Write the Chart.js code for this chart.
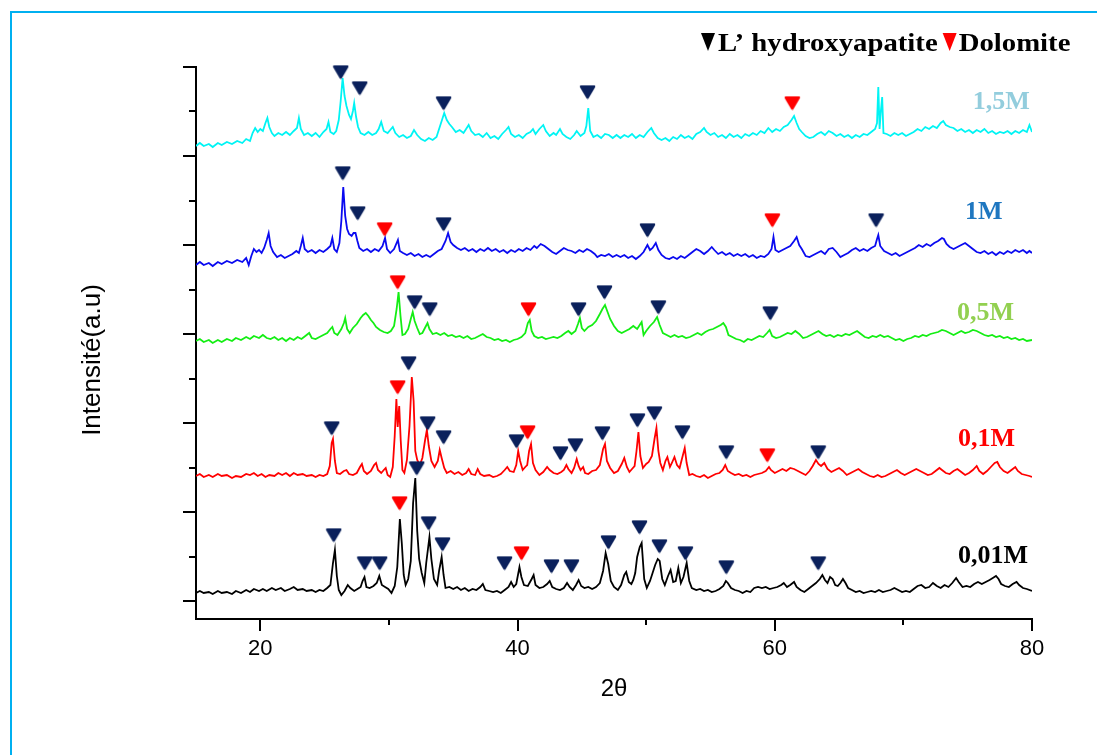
<!DOCTYPE html>
<html>
<head>
<meta charset="utf-8">
<script src="https://cdn.jsdelivr.net/npm/chart.js@4.4.1/dist/chart.umd.min.js"></script>
<style>
  html, body { margin: 0; padding: 0; background: #fff; }
  canvas { display: block; }
</style>
</head>
<body>
<canvas id="xrdChart" width="1097" height="755"></canvas>
<script>
// XRD patterns, [2theta, intensity (a.u., stacked)]
const pattern15M = [
  [15.0,455],[15.3,458],[15.6,455],[16.0,457],[16.3,454],[16.7,458],[17.0,456],[17.4,459],[17.8,457],[18.2,460],
  [18.6,458],[18.9,462],[19.2,460],[19.4,468],[19.6,473],[19.8,469],[20.0,472],[20.2,470],[20.4,478],[20.55,483],
  [20.7,474],[20.9,468],[21.1,465],[21.4,468],[21.7,466],[22.0,469],[22.3,466],[22.6,470],[22.85,473],[23.0,483],
  [23.15,472],[23.4,466],[23.7,468],[24.0,465],[24.3,468],[24.6,464],[24.9,469],[25.15,472],[25.3,479],[25.45,469],
  [25.7,467],[25.9,470],[26.1,481],[26.25,500],[26.4,523],[26.55,505],[26.7,495],[26.9,486],[27.05,482],[27.2,490],
  [27.3,498],[27.45,484],[27.6,474],[27.8,468],[28.1,466],[28.4,469],[28.7,466],[29.0,468],[29.2,472],[29.4,479],
  [29.6,470],[29.9,468],[30.1,471],[30.3,474],[30.5,468],[30.8,464],[31.1,466],[31.4,463],[31.7,465],[31.95,471],
  [32.2,466],[32.5,462],[32.8,460],[33.1,463],[33.4,461],[33.7,464],[33.9,472],[34.1,480],[34.3,488],[34.5,481],
  [34.7,477],[34.9,474],[35.2,469],[35.5,471],[35.8,468],[36.0,472],[36.2,476],[36.4,470],[36.7,466],[37.0,467],
  [37.3,464],[37.6,468],[37.9,463],[38.2,465],[38.5,462],[38.8,467],[39.1,471],[39.3,474],[39.5,467],[39.8,464],
  [40.1,466],[40.4,463],[40.7,467],[41.0,469],[41.2,472],[41.4,467],[41.7,472],[42.0,476],[42.2,470],[42.5,465],
  [42.8,468],[43.0,466],[43.3,472],[43.5,467],[43.8,464],[44.1,462],[44.4,466],[44.6,470],[44.9,465],[45.2,468],
  [45.35,475],[45.5,493],[45.65,470],[45.9,464],[46.2,466],[46.5,463],[46.8,467],[47.1,466],[47.4,463],[47.7,466],
  [48.0,463],[48.3,466],[48.6,464],[48.9,467],[49.2,463],[49.5,466],[49.8,464],[50.1,469],[50.4,473],[50.6,468],
  [50.9,463],[51.2,461],[51.5,463],[51.8,460],[52.1,464],[52.4,462],[52.7,466],[53.0,463],[53.3,465],[53.6,462],
  [53.9,467],[54.2,469],[54.5,473],[54.7,469],[55.0,466],[55.3,468],[55.6,464],[55.9,466],[56.2,463],[56.5,467],
  [56.8,464],[57.1,466],[57.4,463],[57.7,467],[58.0,465],[58.3,468],[58.6,466],[58.9,470],[59.2,468],[59.5,473],
  [59.8,469],[60.1,472],[60.4,470],[60.7,474],[61.0,476],[61.3,481],[61.5,485],[61.7,478],[61.9,472],[62.1,469],
  [62.4,465],[62.7,463],[63.0,464],[63.3,467],[63.6,469],[63.9,466],[64.2,470],[64.5,468],[64.8,465],[65.1,467],
  [65.4,464],[65.7,466],[66.0,463],[66.3,466],[66.6,464],[66.9,467],[67.2,466],[67.5,469],[67.8,472],[67.95,478],
  [68.05,514],[68.15,472],[68.25,490],[68.35,504],[68.45,468],[68.7,467],[69.0,465],[69.3,468],[69.6,466],[69.9,468],
  [70.2,465],[70.5,467],[70.8,469],[71.1,472],[71.4,470],[71.7,474],[72.0,472],[72.3,475],[72.6,473],[72.9,478],
  [73.1,480],[73.3,476],[73.6,474],[73.9,473],[74.2,470],[74.5,472],[74.8,469],[75.1,471],[75.4,468],[75.7,471],
  [76.0,469],[76.3,472],[76.6,468],[76.9,470],[77.2,467],[77.5,469],[77.8,468],[78.1,470],[78.4,467],[78.7,470],
  [79.0,468],[79.3,471],[79.6,469],[79.8,476],[80.0,469]
];

const pattern1M = [
  [15.0,336],[15.3,339],[15.6,336],[16.0,338],[16.3,335],[16.7,339],[17.0,337],[17.4,340],[17.8,338],[18.2,341],
  [18.6,339],[18.9,343],[19.1,336],[19.3,345],[19.5,352],[19.7,349],[19.9,351],[20.1,348],[20.3,353],[20.5,361],
  [20.65,368],[20.8,355],[21.0,349],[21.3,344],[21.6,346],[21.9,343],[22.2,345],[22.5,347],[22.8,350],[23.0,348],
  [23.15,355],[23.3,363],[23.45,352],[23.7,349],[24.0,351],[24.3,348],[24.6,351],[24.9,349],[25.2,352],[25.45,355],
  [25.6,363],[25.75,352],[25.95,349],[26.15,358],[26.3,380],[26.45,414],[26.6,385],[26.75,372],[26.9,367],[27.1,365],
  [27.25,368],[27.4,368],[27.55,360],[27.7,353],[28.0,350],[28.3,352],[28.6,349],[28.9,352],[29.2,350],[29.5,355],
  [29.7,363],[29.85,352],[30.1,348],[30.4,352],[30.7,361],[30.85,350],[31.1,348],[31.4,346],[31.7,348],[32.0,345],
  [32.3,347],[32.6,344],[32.9,346],[33.2,344],[33.5,347],[33.8,350],[34.1,352],[34.4,360],[34.6,368],[34.8,359],
  [35.0,356],[35.3,353],[35.6,351],[35.9,353],[36.2,350],[36.5,352],[36.8,349],[37.1,352],[37.4,350],[37.7,353],
  [38.0,350],[38.3,352],[38.6,349],[38.9,351],[39.2,348],[39.5,351],[39.8,349],[40.1,352],[40.4,350],[40.7,353],
  [41.0,351],[41.3,355],[41.5,353],[41.8,357],[42.1,355],[42.4,352],[42.7,349],[43.0,347],[43.3,350],[43.6,353],
  [43.9,351],[44.2,350],[44.5,348],[44.8,351],[45.1,349],[45.4,352],[45.7,350],[46.0,347],[46.2,344],[46.5,346],
  [46.8,345],[47.1,347],[47.4,344],[47.7,346],[48.0,344],[48.3,346],[48.6,343],[48.9,345],[49.2,342],[49.5,345],
  [49.8,349],[50.1,356],[50.3,351],[50.5,353],[50.75,358],[50.95,351],[51.2,346],[51.5,343],[51.8,342],[52.1,344],
  [52.4,342],[52.7,345],[53.0,343],[53.3,346],[53.6,349],[53.9,352],[54.2,350],[54.5,347],[54.8,350],[55.1,354],
  [55.3,351],[55.6,347],[55.9,349],[56.2,346],[56.5,348],[56.8,345],[57.1,347],[57.4,345],[57.7,347],[58.0,344],
  [58.3,346],[58.6,343],[58.9,345],[59.2,344],[59.5,347],[59.75,352],[59.9,364],[60.05,351],[60.3,349],[60.6,351],
  [60.9,353],[61.2,355],[61.5,360],[61.7,364],[61.9,356],[62.1,352],[62.4,345],[62.7,344],[63.0,346],[63.3,348],
  [63.6,350],[63.9,347],[64.2,352],[64.5,353],[64.8,349],[65.1,344],[65.4,346],[65.7,348],[66.0,351],[66.3,353],
  [66.6,350],[66.9,352],[67.2,350],[67.5,353],[67.8,355],[67.95,362],[68.05,366],[68.2,355],[68.5,350],[68.8,348],
  [69.1,346],[69.4,348],[69.7,345],[70.0,347],[70.3,349],[70.6,351],[70.9,353],[71.2,356],[71.5,354],[71.8,357],
  [72.1,355],[72.4,358],[72.7,360],[73.0,363],[73.15,362],[73.35,357],[73.6,354],[73.9,352],[74.2,354],[74.5,356],
  [74.8,358],[75.1,355],[75.4,352],[75.7,349],[76.0,348],[76.3,350],[76.6,347],[76.9,349],[77.2,346],[77.5,349],
  [77.8,347],[78.1,350],[78.4,348],[78.7,351],[79.0,349],[79.3,351],[79.6,348],[79.8,350],[80.0,348]
];

const pattern05M = [
  [15.0,260],[15.3,262],[15.6,259],[16.0,261],[16.3,258],[16.7,261],[17.0,259],[17.4,262],[17.8,260],[18.1,263],
  [18.5,261],[18.9,264],[19.2,262],[19.5,265],[19.9,263],[20.2,266],[20.5,263],[20.8,262],[21.1,264],[21.4,261],
  [21.7,263],[22.0,260],[22.3,263],[22.6,261],[22.9,264],[23.2,262],[23.5,265],[23.8,268],[24.0,263],[24.3,262],
  [24.6,264],[24.9,266],[25.2,268],[25.45,272],[25.6,274],[25.75,268],[26.0,266],[26.3,272],[26.5,278],[26.6,283],
  [26.75,272],[26.95,268],[27.2,273],[27.5,277],[27.8,283],[28.0,286],[28.2,288],[28.4,285],[28.6,281],[28.8,278],
  [29.0,274],[29.3,271],[29.6,269],[29.9,268],[30.15,270],[30.4,275],[30.6,292],[30.75,309],[30.9,285],[31.05,266],
  [31.25,267],[31.5,272],[31.7,282],[31.85,289],[32.0,280],[32.2,273],[32.4,267],[32.6,268],[32.8,273],[33.0,278],
  [33.15,272],[33.4,267],[33.7,268],[34.0,266],[34.3,268],[34.6,265],[34.9,266],[35.2,264],[35.5,265],[35.8,263],
  [36.1,265],[36.4,262],[36.7,263],[37.0,265],[37.3,267],[37.6,264],[37.9,263],[38.2,261],[38.5,262],[38.8,260],
  [39.1,261],[39.4,259],[39.7,261],[40.0,262],[40.3,264],[40.6,268],[40.8,278],[40.95,281],[41.1,270],[41.3,265],
  [41.6,263],[41.9,264],[42.2,262],[42.5,263],[42.8,264],[43.1,263],[43.4,265],[43.7,268],[43.95,270],[44.2,267],
  [44.5,270],[44.7,277],[44.85,283],[45.0,273],[45.2,270],[45.5,274],[45.8,276],[46.1,280],[46.4,287],[46.6,292],
  [46.8,296],[47.0,289],[47.2,282],[47.5,275],[47.8,270],[48.1,268],[48.4,270],[48.7,272],[49.0,275],[49.3,272],
  [49.5,276],[49.65,279],[49.8,266],[50.0,270],[50.3,275],[50.6,279],[50.85,284],[51.05,276],[51.3,268],[51.6,266],
  [51.9,264],[52.2,266],[52.5,264],[52.8,265],[53.1,263],[53.4,264],[53.7,266],[54.0,268],[54.3,266],[54.6,269],
  [54.9,271],[55.2,272],[55.5,274],[55.8,276],[56.0,278],[56.2,274],[56.4,266],[56.7,264],[57.0,262],[57.3,261],
  [57.6,259],[57.9,262],[58.2,261],[58.5,263],[58.8,265],[59.1,264],[59.4,268],[59.6,271],[59.8,265],[60.1,263],
  [60.4,264],[60.7,266],[61.0,268],[61.3,267],[61.6,270],[61.9,267],[62.2,263],[62.5,264],[62.8,266],[63.1,268],
  [63.4,270],[63.7,267],[64.0,265],[64.3,266],[64.6,264],[64.9,266],[65.2,265],[65.5,267],[65.8,266],[66.1,268],
  [66.4,270],[66.7,267],[67.0,264],[67.3,263],[67.6,265],[67.9,264],[68.2,266],[68.5,264],[68.8,265],[69.1,263],
  [69.4,261],[69.7,262],[70.0,260],[70.3,262],[70.6,263],[70.9,265],[71.2,264],[71.5,266],[71.8,265],[72.1,267],
  [72.4,268],[72.7,269],[73.0,271],[73.3,270],[73.6,268],[73.9,266],[74.2,268],[74.5,270],[74.8,268],[75.1,269],
  [75.4,271],[75.7,270],[76.0,268],[76.3,266],[76.6,265],[76.9,266],[77.2,264],[77.5,265],[77.8,263],[78.1,264],
  [78.4,262],[78.7,263],[79.0,261],[79.3,262],[79.6,260],[80.0,261]
];

const pattern01M = [
  [15.0,125],[15.3,127],[15.6,124],[16.0,126],[16.3,124],[16.7,127],[17.0,125],[17.4,126],[17.8,123],[18.1,125],
  [18.5,124],[18.9,127],[19.2,126],[19.5,128],[19.8,125],[20.1,127],[20.4,124],[20.7,126],[21.1,125],[21.4,128],
  [21.7,126],[22.0,128],[22.3,125],[22.6,128],[22.9,126],[23.3,127],[23.6,125],[24.0,126],[24.3,124],[24.6,126],
  [24.9,125],[25.2,127],[25.4,135],[25.55,158],[25.65,162],[25.8,140],[25.95,128],[26.2,127],[26.5,130],[26.7,131],
  [26.9,127],[27.2,126],[27.5,128],[27.75,134],[27.9,137],[28.05,130],[28.3,127],[28.6,130],[28.85,136],[29.0,138],
  [29.15,131],[29.4,128],[29.6,131],[29.75,133],[29.9,126],[30.1,124],[30.3,134],[30.45,165],[30.58,202],[30.68,174],
  [30.8,195],[30.92,160],[31.05,131],[31.2,128],[31.4,141],[31.6,175],[31.78,224],[31.92,200],[32.05,150],[32.2,141],
  [32.4,136],[32.6,143],[32.8,160],[32.95,171],[33.1,155],[33.3,140],[33.55,134],[33.8,140],[33.95,151],[34.1,143],
  [34.3,133],[34.5,128],[34.8,130],[35.1,127],[35.4,129],[35.7,126],[36.0,128],[36.2,132],[36.4,127],[36.7,126],
  [36.9,132],[37.1,127],[37.4,125],[37.8,126],[38.1,124],[38.4,125],[38.7,127],[39.0,131],[39.2,134],[39.4,130],
  [39.7,129],[39.9,136],[40.05,150],[40.2,140],[40.4,131],[40.6,134],[40.75,136],[40.9,150],[41.05,157],[41.2,138],
  [41.4,131],[41.7,126],[42.0,129],[42.3,134],[42.5,131],[42.8,128],[43.1,127],[43.4,129],[43.6,131],[43.8,136],
  [43.95,132],[44.2,128],[44.4,133],[44.6,142],[44.75,135],[44.9,131],[45.1,134],[45.25,128],[45.5,127],[45.8,130],
  [46.1,131],[46.4,136],[46.65,152],[46.8,157],[46.95,140],[47.2,133],[47.5,128],[47.8,130],[48.1,137],[48.3,143],
  [48.5,134],[48.7,129],[48.9,132],[49.1,135],[49.25,150],[49.4,169],[49.55,145],[49.75,133],[50.0,137],[50.2,139],
  [50.45,145],[50.65,162],[50.8,173],[50.95,150],[51.1,138],[51.3,131],[51.5,140],[51.65,144],[51.85,134],[52.0,138],
  [52.2,144],[52.4,136],[52.6,133],[52.8,143],[53.0,153],[53.15,138],[53.35,126],[53.6,127],[53.9,125],[54.2,124],
  [54.5,126],[54.8,123],[55.1,125],[55.4,127],[55.7,128],[55.95,131],[56.15,136],[56.35,130],[56.6,128],[56.9,126],
  [57.2,127],[57.5,125],[57.8,126],[58.1,124],[58.4,126],[58.7,127],[59.0,128],[59.3,130],[59.55,134],[59.7,131],
  [60.0,128],[60.3,130],[60.6,132],[60.9,130],[61.2,133],[61.5,132],[61.8,130],[62.1,128],[62.4,126],[62.7,130],
  [62.95,135],[63.2,141],[63.4,137],[63.6,135],[63.85,138],[64.1,132],[64.4,129],[64.7,131],[65.0,133],[65.3,130],
  [65.6,126],[65.9,128],[66.2,130],[66.5,132],[66.8,129],[67.1,127],[67.4,125],[67.7,124],[68.0,126],[68.3,124],
  [68.6,125],[68.9,127],[69.2,129],[69.5,131],[69.8,128],[70.1,126],[70.4,128],[70.7,130],[71.0,132],[71.3,130],
  [71.6,128],[71.9,126],[72.2,127],[72.5,130],[72.8,133],[73.0,131],[73.3,128],[73.6,127],[73.9,130],[74.2,132],
  [74.5,129],[74.8,126],[75.1,128],[75.4,131],[75.7,135],[75.9,130],[76.2,127],[76.5,130],[76.8,134],[77.1,138],
  [77.3,139],[77.5,134],[77.8,130],[78.1,128],[78.4,131],[78.7,134],[78.9,130],[79.2,127],[79.5,126],[79.8,125],
  [80.0,124]
];

const pattern001M = [
  [15.0,8],[15.3,10],[15.6,8],[16.0,9],[16.3,7],[16.7,10],[17.0,8],[17.4,9],[17.8,7],[18.1,10],
  [18.5,8],[18.9,11],[19.2,9],[19.5,12],[19.9,10],[20.2,12],[20.5,10],[20.9,13],[21.2,11],[21.6,13],
  [21.9,10],[22.3,12],[22.6,14],[22.9,11],[23.3,12],[23.6,10],[24.0,11],[24.3,9],[24.6,11],[24.9,10],
  [25.2,13],[25.45,16],[25.65,38],[25.8,51],[25.95,25],[26.1,11],[26.3,6],[26.55,10],[26.8,16],[27.0,13],
  [27.3,10],[27.55,12],[27.8,14],[27.95,20],[28.1,24],[28.25,14],[28.5,13],[28.8,15],[29.05,18],[29.25,25],
  [29.45,16],[29.7,14],[29.95,12],[30.2,8],[30.45,15],[30.65,34],[30.85,82],[31.0,58],[31.15,26],[31.3,16],
  [31.5,22],[31.7,40],[31.88,98],[32.05,123],[32.2,70],[32.35,42],[32.55,28],[32.75,18],[32.9,38],[33.15,64],
  [33.3,42],[33.5,22],[33.75,16],[33.9,30],[34.1,44],[34.25,26],[34.4,13],[34.7,14],[35.0,12],[35.3,14],
  [35.6,11],[35.9,13],[36.2,10],[36.5,12],[36.8,11],[37.1,14],[37.3,17],[37.5,11],[37.8,10],[38.1,9],
  [38.4,10],[38.7,8],[39.0,11],[39.3,14],[39.5,19],[39.7,14],[39.9,17],[40.15,34],[40.3,24],[40.5,16],
  [40.8,15],[41.1,22],[41.25,26],[41.4,16],[41.7,13],[42.0,14],[42.3,17],[42.5,20],[42.7,14],[43.0,12],
  [43.3,11],[43.6,13],[43.85,18],[44.05,14],[44.3,11],[44.55,16],[44.75,21],[44.95,15],[45.2,13],[45.5,14],
  [45.8,12],[46.1,14],[46.4,18],[46.65,30],[46.85,48],[47.05,37],[47.25,20],[47.5,14],[47.8,11],[48.05,16],
  [48.3,26],[48.45,29],[48.65,19],[48.85,17],[49.0,21],[49.15,28],[49.3,44],[49.5,54],[49.65,58],[49.85,22],
  [50.05,13],[50.3,20],[50.5,28],[50.7,36],[50.9,42],[51.05,40],[51.25,22],[51.45,16],[51.7,25],[51.9,31],
  [52.1,19],[52.3,20],[52.5,33],[52.7,18],[52.9,24],[53.15,38],[53.35,20],[53.55,13],[53.9,11],[54.2,12],
  [54.5,10],[54.8,11],[55.1,9],[55.4,10],[55.7,12],[56.0,15],[56.2,20],[56.35,18],[56.6,13],[56.9,11],
  [57.2,10],[57.5,8],[57.8,10],[58.1,9],[58.4,13],[58.7,14],[59.0,13],[59.3,14],[59.6,12],[59.9,13],
  [60.2,14],[60.5,16],[60.7,18],[60.95,14],[61.2,16],[61.5,19],[61.7,14],[62.0,11],[62.3,9],[62.6,12],
  [62.9,15],[63.2,18],[63.5,22],[63.7,26],[63.9,21],[64.1,18],[64.3,24],[64.5,22],[64.7,16],[64.9,15],
  [65.1,18],[65.3,22],[65.5,18],[65.7,13],[66.0,11],[66.3,9],[66.6,10],[66.9,8],[67.2,9],[67.5,10],
  [67.8,9],[68.1,11],[68.4,9],[68.7,10],[69.0,11],[69.3,13],[69.6,11],[69.9,9],[70.2,10],[70.5,9],
  [70.8,12],[71.1,15],[71.4,16],[71.7,13],[72.0,14],[72.3,18],[72.6,15],[72.9,13],[73.2,16],[73.5,14],
  [73.8,18],[74.1,23],[74.3,19],[74.6,14],[74.9,15],[75.2,14],[75.5,17],[75.8,19],[76.1,17],[76.4,19],
  [76.7,21],[76.95,23],[77.2,25],[77.4,22],[77.6,17],[77.9,15],[78.2,14],[78.5,17],[78.8,19],[79.0,16],
  [79.3,13],[79.6,12],[80.0,10]
];

// phase markers, [2theta, intensity]
const hydroxyapatiteMarks = [
  [26.25,529],[27.73,513],[34.25,498],[45.44,509],
  [26.41,428],[27.57,388],[34.25,377],[50.10,371],[67.88,381],
  [32.0,299],[33.17,292],[44.74,292],[46.76,309],[50.95,294],[59.65,288],
  [25.55,173],[31.53,238],[33.01,178],[34.25,164],[39.92,160],[43.34,148],[44.50,156],[46.60,168],[49.32,181],[50.64,188],[52.82,169],[56.23,149],[63.38,149],
  [25.71,66],[28.12,38],[29.28,38],[32.16,133],[33.09,78],[34.17,57],[38.99,38],[42.64,35],[44.19,35],[47.07,59],[49.48,74],[51.03,55],[53.05,48],[56.23,34],[63.38,38]
];
const dolomiteMarks = [
  [61.36,498],
  [29.67,372],[59.81,381],
  [30.68,319],[40.85,292],
  [30.68,214],[40.78,169],[59.42,146],
  [30.83,98],[40.31,48]
];

const seriesNames = ["1,5M", "1M", "0,5M", "0,1M", "0,01M"];
const seriesData = [pattern15M, pattern1M, pattern05M, pattern01M, pattern001M];
const seriesColors = ["#00f4f4", "#0a0af0", "#14ee14", "#ff0000", "#000000"];
const labelColors = ["#93cddd", "#1f77c0", "#92d050", "#ff0000", "#000000"];
const labelAnchors = [[75.4, 499], [74.8, 389], [74.17, 288], [74.25, 162], [74.25, 45]];

const xTickValues = [20, 30, 40, 50, 60, 70, 80];
const xLabelValues = [20, 40, 60, 80];
const yMajorStep = 89;
const yTickValues = [0, 44.5, 89, 133.5, 178, 222.5, 267, 311.5, 356, 400.5, 445, 489.5, 534];

const toPoints = (arr) => arr.map(([x, y]) => ({ x, y }));

function makeTriangle(color) {
  const c = document.createElement("canvas");
  c.width = 17;
  c.height = 15;
  const g = c.getContext("2d");
  g.fillStyle = color;
  g.strokeStyle = color;
  g.lineWidth = 2.5;
  g.lineJoin = "round";
  g.beginPath();
  g.moveTo(2, 2);
  g.lineTo(15, 2);
  g.lineTo(8.5, 13);
  g.closePath();
  g.fill();
  g.stroke();
  return c;
}

const navy = "#0b215c";
const overlay = {
  id: "overlay",
  beforeDraw(chart) {
    const { ctx } = chart;
    ctx.save();
    ctx.strokeStyle = "#00b0f0";
    ctx.lineWidth = 2;
    ctx.beginPath();
    ctx.moveTo(11, chart.height + 5);
    ctx.lineTo(11, 12);
    ctx.lineTo(chart.width + 5, 12);
    ctx.stroke();
    ctx.restore();
  },
  afterDraw(chart) {
    const { ctx, scales: { x, y } } = chart;
    ctx.save();
    ctx.strokeStyle = "#000";
    ctx.lineWidth = 2;
    // y tick marks (major / minor)
    yTickValues.forEach((v) => {
      const py = Math.round(y.getPixelForValue(v));
      const len = v % yMajorStep === 0 ? 13 : 7;
      ctx.beginPath();
      ctx.moveTo(x.left - len, py);
      ctx.lineTo(x.left, py);
      ctx.stroke();
    });
    // x tick marks
    xTickValues.forEach((v) => {
      const px = Math.round(x.getPixelForValue(v));
      const len = xLabelValues.includes(v) ? 12 : 6;
      ctx.beginPath();
      ctx.moveTo(px, y.bottom);
      ctx.lineTo(px, y.bottom + len);
      ctx.stroke();
    });

    // y title
    ctx.fillStyle = "#000";
    ctx.font = '26px "Liberation Sans", Arial, sans-serif';
    ctx.textAlign = "center";
    ctx.textBaseline = "middle";
    ctx.save();
    ctx.translate(93, 360);
    ctx.rotate(-Math.PI / 2);
    ctx.fillText("Intensité(a.u)", 0, 0);
    ctx.restore();

    // series labels
    ctx.font = 'bold 26px "Liberation Serif", "Times New Roman", serif';
    ctx.textAlign = "left";
    seriesNames.forEach((name, i) => {
      ctx.fillStyle = labelColors[i];
      ctx.fillText(name, x.getPixelForValue(labelAnchors[i][0]), y.getPixelForValue(labelAnchors[i][1]));
    });

    // legend (text slightly stretched, as in the source figure)
    const drawMark = (left, color) => {
      ctx.fillStyle = color;
      ctx.beginPath();
      ctx.moveTo(left, 33);
      ctx.lineTo(left + 14, 33);
      ctx.lineTo(left + 7, 51);
      ctx.closePath();
      ctx.fill();
    };
    const stretch = 1.15;
    const drawWide = (text, left) => {
      ctx.save();
      ctx.translate(left, 51);
      ctx.scale(stretch, 1);
      ctx.fillText(text, 0, 0);
      ctx.restore();
      return ctx.measureText(text).width * stretch;
    };
    ctx.font = 'bold 25px "Liberation Serif", "Times New Roman", serif';
    ctx.textBaseline = "alphabetic";
    let lx = 701;
    drawMark(lx, "#000");
    lx += 17;
    ctx.fillStyle = "#000";
    lx += drawWide("L\u2019 hydroxyapatite", lx) + 5;
    drawMark(lx, "#ff0000");
    lx += 16;
    ctx.fillStyle = "#000";
    drawWide("Dolomite", lx);
    ctx.restore();
  },
};

const datasets = seriesData.map((pts, i) => ({
  label: seriesNames[i],
  data: toPoints(pts),
  borderColor: seriesColors[i],
  borderWidth: 1.8,
  pointRadius: 0,
  tension: 0,
  fill: false,
  order: 2,
}));
datasets.push(
  {
    type: "scatter",
    label: "L' hydroxyapatite",
    data: toPoints(hydroxyapatiteMarks),
    pointStyle: makeTriangle(navy),
    clip: false,
    order: 1,
  },
  {
    type: "scatter",
    label: "Dolomite",
    data: toPoints(dolomiteMarks),
    pointStyle: makeTriangle("#ff0000"),
    clip: false,
    order: 1,
  }
);

new Chart(document.getElementById("xrdChart"), {
  type: "line",
  data: { datasets },
  plugins: [overlay],
  options: {
    responsive: false,
    devicePixelRatio: 1,
    animation: false,
    layout: { padding: { top: 67, right: 65, bottom: 0, left: 0 } },
    plugins: { legend: { display: false }, tooltip: { enabled: false } },
    scales: {
      x: {
        type: "linear",
        min: 15,
        max: 80,
        afterBuildTicks: (s) => { s.ticks = xTickValues.map((v) => ({ value: v })); },
        afterFit: (s) => { s.height = 136; },
        grid: { display: false, drawTicks: true, tickLength: 12 },
        border: { display: true, color: "#000", width: 2 },
        ticks: {
          color: "#000",
          padding: 5,
          maxRotation: 0,
          autoSkip: false,
          font: { family: '"Liberation Sans", Arial, sans-serif', size: 22 },
          callback: (v) => (xLabelValues.includes(v) ? String(v) : ""),
        },
        title: {
          display: true,
          text: "2\u03b8",
          color: "#000",
          font: { family: '"Liberation Sans", Arial, sans-serif', size: 24 },
          padding: { top: 0, bottom: 51 },
        },
      },
      y: {
        min: -18,
        max: 534,
        afterBuildTicks: (s) => { s.ticks = yTickValues.map((v) => ({ value: v })); },
        afterFit: (s) => { s.width = 196; },
        grid: { display: false, drawTicks: false },
        border: { display: true, color: "#000", width: 2 },
        ticks: { display: false },
      },
    },
  },
});
</script>
</body>
</html>
